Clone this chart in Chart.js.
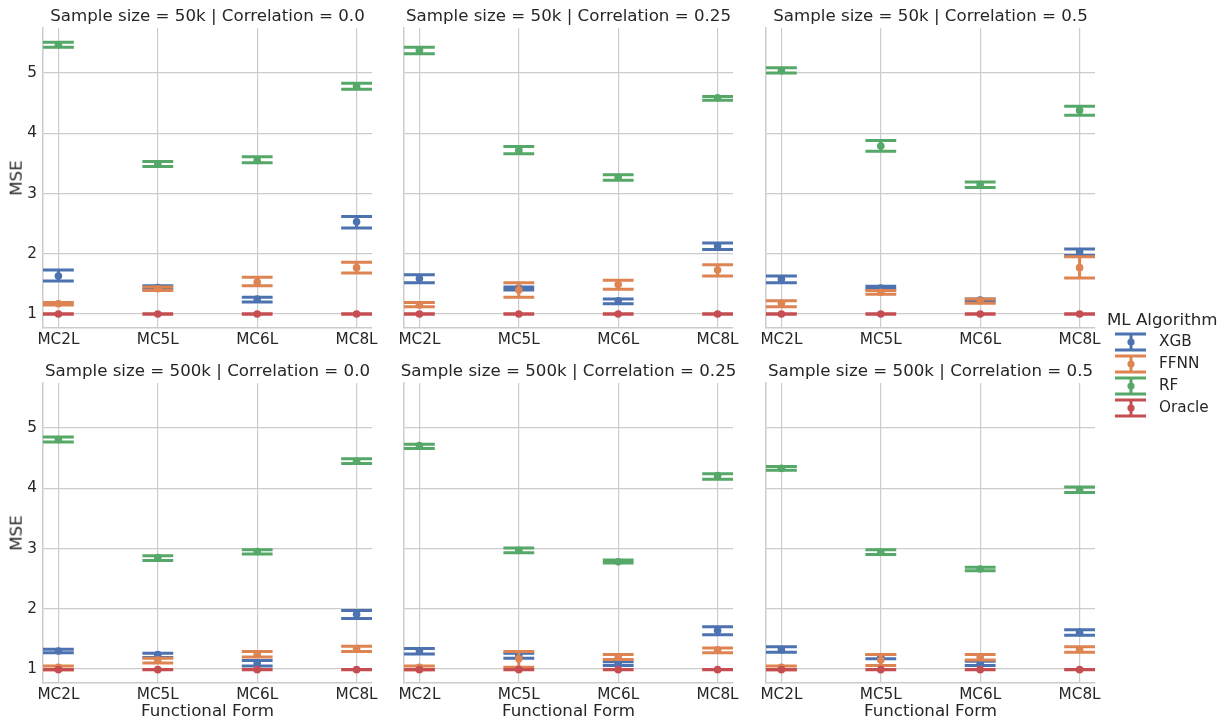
<!DOCTYPE html>
<html><head><meta charset="utf-8">
<script src="https://cdn.jsdelivr.net/npm/chart.js@4.4.0/dist/chart.umd.min.js"></script>
<style>
body{margin:0;background:#fff;width:1228px;height:723px;overflow:hidden;position:relative;font-family:"DejaVu Sans",sans-serif;color:#262626}
canvas{position:absolute}
.t{position:absolute;font-size:16.67px;white-space:nowrap;transform:translate(-50%,-50%);line-height:1}
.lg{position:absolute;font-size:15.28px;white-space:nowrap;line-height:1;transform:translateY(-50%)}
</style></head><body>
<script>
// ---- data ----
const categories = ['MC2L', 'MC5L', 'MC6L', 'MC8L'];
const algorithms = ['XGB', 'FFNN', 'RF', 'Oracle'];
const sampleSizes = ['50k', '500k'];
const correlations = ['0.0', '0.25', '0.5'];
const yTicks = [1, 2, 3, 4, 5];
// rows = panels (50k/0.0, 50k/0.25, 50k/0.5, 500k/0.0, 500k/0.25, 500k/0.5), cols = categories
const xgbMean = [[1.63,1.44,1.25,2.53],[1.59,1.43,1.22,2.13],[1.58,1.43,1.23,2.03],[1.30,1.24,1.10,1.91],[1.30,1.22,1.09,1.64],[1.32,1.20,1.09,1.61]];
const xgbLow  = [[1.55,1.41,1.20,2.43],[1.52,1.40,1.17,2.07],[1.52,1.41,1.20,1.97],[1.27,1.19,1.05,1.84],[1.25,1.18,1.06,1.57],[1.28,1.17,1.06,1.56]];
const xgbHigh = [[1.73,1.47,1.28,2.62],[1.65,1.45,1.25,2.18],[1.63,1.46,1.25,2.08],[1.33,1.26,1.14,1.97],[1.34,1.26,1.12,1.70],[1.37,1.24,1.13,1.65]];
const ffnnMean = [[1.17,1.42,1.53,1.77],[1.15,1.40,1.49,1.73],[1.18,1.36,1.22,1.77],[1.03,1.15,1.25,1.34],[1.03,1.17,1.20,1.32],[1.03,1.15,1.20,1.32]];
const ffnnLow  = [[1.15,1.39,1.47,1.68],[1.12,1.28,1.41,1.63],[1.12,1.33,1.18,1.60],[0.99,1.10,1.20,1.29],[0.99,1.03,1.16,1.27],[0.99,1.06,1.15,1.28]];
const ffnnHigh = [[1.19,1.45,1.61,1.86],[1.19,1.52,1.56,1.82],[1.22,1.39,1.25,1.95],[1.05,1.18,1.29,1.38],[1.05,1.29,1.24,1.35],[1.05,1.24,1.24,1.37]];
const rfMean = [[5.47,3.49,3.55,4.78],[5.38,3.72,3.27,4.59],[5.04,3.79,3.15,4.38],[4.81,2.85,2.95,4.45],[4.71,2.97,2.78,4.21],[4.33,2.94,2.66,3.98]];
const rfLow  = [[5.43,3.45,3.51,4.73],[5.32,3.66,3.22,4.55],[5.00,3.70,3.10,4.30],[4.77,2.80,2.91,4.41],[4.66,2.93,2.76,4.15],[4.30,2.90,2.63,3.93]];
const rfHigh = [[5.51,3.53,3.61,4.83],[5.43,3.78,3.31,4.61],[5.09,3.88,3.19,4.45],[4.85,2.88,2.98,4.49],[4.73,3.01,2.81,4.24],[4.36,2.98,2.69,4.02]];
const oracleMean = [[1.00,1.00,1.00,1.00],[1.00,1.00,1.00,1.00],[1.00,1.00,1.00,1.00],[0.99,0.99,0.99,0.99],[0.99,0.99,0.99,0.99],[0.99,0.99,0.99,0.99]];
const oracleLow  = [[0.995,0.995,0.995,0.995],[0.995,0.995,0.995,0.995],[0.995,0.995,0.995,0.995],[0.986,0.986,0.986,0.986],[0.986,0.986,0.986,0.986],[0.986,0.986,0.986,0.986]];
const oracleHigh = [[1.005,1.005,1.005,1.005],[1.005,1.005,1.005,1.005],[1.005,1.005,1.005,1.005],[0.994,0.994,0.994,0.994],[0.994,0.994,0.994,0.994],[0.994,0.994,0.994,0.994]];

// ---- style / layout ----
const colors = ['#4C72B0', '#DD8452', '#55A868', '#C44E52'];
const seriesMean = [xgbMean, ffnnMean, rfMean, oracleMean];
const seriesLow = [xgbLow, ffnnLow, rfLow, oracleLow];
const seriesHigh = [xgbHigh, ffnnHigh, rfHigh, oracleHigh];
const capHalf = 0.155;
const yMin = 0.768, yMax = 5.748;
const plotLefts = [43, 404, 766], plotTops = [28, 383];
const plotW = 329, plotH = 300;
const padL = [45, 10, 10], padR = 22, padT = 20, padB = 30;
const textColor = '#262626', gridColor = '#cccccc';
const tickFont = {family: 'DejaVu Sans', size: 15.28};

const errorBarPlugin = {
  id: 'errbars',
  beforeDatasetDraw(chart, args) {
    const ds = chart.data.datasets[args.index];
    const xs = chart.scales.x, ys = chart.scales.y, a = chart.chartArea, ctx = chart.ctx;
    ctx.save();
    ctx.beginPath(); ctx.rect(a.left, a.top, a.right - a.left, a.bottom - a.top); ctx.clip();
    ctx.strokeStyle = ds.errColor; ctx.lineWidth = 3; ctx.lineCap = 'butt';
    ds.low.forEach((lo, i) => {
      const hi = ds.high[i];
      const px = xs.getPixelForValue(i);
      const x0 = xs.getPixelForValue(i - capHalf), x1 = xs.getPixelForValue(i + capHalf);
      const yl = ys.getPixelForValue(lo), yh = ys.getPixelForValue(hi);
      ctx.beginPath();
      ctx.moveTo(px, yl); ctx.lineTo(px, yh);
      ctx.moveTo(x0, yl); ctx.lineTo(x1, yl);
      ctx.moveTo(x0, yh); ctx.lineTo(x1, yh);
      ctx.stroke();
    });
    ctx.restore();
  }
};

function addText(txt, x, y, cls, extra) {
  const d = document.createElement('div');
  d.className = cls; d.textContent = txt;
  d.style.left = x + 'px'; d.style.top = y + 'px';
  if (extra) d.style.transform = extra;
  document.body.appendChild(d);
}

sampleSizes.forEach((ss, r) => {
  correlations.forEach((corr, c) => {
    const p = r * 3 + c;
    const L = padL[c];
    const cv = document.createElement('canvas');
    const W = plotW + L + padR, H = plotH + padT + padB;
    cv.width = W; cv.height = H;
    cv.style.left = (plotLefts[c] - L) + 'px';
    cv.style.top = (plotTops[r] - padT) + 'px';
    cv.style.width = W + 'px'; cv.style.height = H + 'px';
    document.body.appendChild(cv);

    const datasets = algorithms.map((alg, k) => ({
      label: alg,
      data: categories.map((cat, i) => ({x: i, y: seriesMean[k][p][i]})),
      low: seriesLow[k][p], high: seriesHigh[k][p],
      errColor: colors[k],
      backgroundColor: colors[k], borderColor: colors[k],
      pointRadius: 3.8, pointBorderWidth: 0, pointHoverRadius: 3.8,
      showLine: false,
      order: algorithms.length - k
    }));

    new Chart(cv, {
      type: 'scatter',
      data: {datasets},
      plugins: [errorBarPlugin],
      options: {
        responsive: false, animation: false, devicePixelRatio: 1,
        layout: {padding: {left: 0, right: padR, top: padT, bottom: 0}},
        plugins: {legend: {display: false}, tooltip: {enabled: false}},
        scales: {
          x: {
            type: 'linear', min: -capHalf, max: categories.length - 1 + capHalf,
            afterBuildTicks: s => { s.ticks = categories.map((cat, i) => ({value: i})); },
            afterFit: s => { s.height = padB; },
            ticks: {color: textColor, font: tickFont, padding: 3, maxRotation: 0,
                    callback: v => categories[v]},
            grid: {color: gridColor, lineWidth: 1.2, drawTicks: false},
            border: {color: gridColor, width: 1.5}
          },
          y: {
            type: 'linear', min: yMin, max: yMax,
            afterBuildTicks: s => { s.ticks = yTicks.map(v => ({value: v})); },
            afterFit: s => { s.width = L; },
            ticks: {display: c === 0, color: textColor, font: tickFont, padding: 6},
            grid: {color: gridColor, lineWidth: 1.2, drawTicks: false},
            border: {color: gridColor, width: 1.5}
          }
        }
      }
    });

    addText('Sample size = ' + ss + ' | Correlation = ' + corr,
            plotLefts[c] + plotW / 2, plotTops[r] - 12, 't');
    if (c === 0) addText('MSE', 17, plotTops[r] + plotH / 2, 't', 'translate(-50%,-50%) rotate(-90deg)');
    if (r === 1) addText('Functional Form', plotLefts[c] + plotW / 2, 711, 't');
  });
});

// legend
addText('ML Algorithm', 1107, 320, 't', 'translateY(-50%)');
const legendY = [342, 364, 386, 408];
algorithms.forEach((alg, k) => {
  const ns = 'http://www.w3.org/2000/svg';
  const svg = document.createElementNS(ns, 'svg');
  svg.setAttribute('width', 32); svg.setAttribute('height', 20);
  svg.style.position = 'absolute'; svg.style.left = '1115px'; svg.style.top = (legendY[k] - 10) + 'px';
  const path = document.createElementNS(ns, 'path');
  path.setAttribute('d', 'M16 2 V18 M0 2 H31 M0 18 H31');
  path.setAttribute('stroke', colors[k]); path.setAttribute('stroke-width', 3); path.setAttribute('fill', 'none');
  svg.appendChild(path);
  const dot = document.createElementNS(ns, 'circle');
  dot.setAttribute('cx', 16); dot.setAttribute('cy', 10); dot.setAttribute('r', 3.6); dot.setAttribute('fill', colors[k]);
  svg.appendChild(dot);
  document.body.appendChild(svg);
  addText(alg, 1159, legendY[k], 'lg');
});
</script>
</body></html>
